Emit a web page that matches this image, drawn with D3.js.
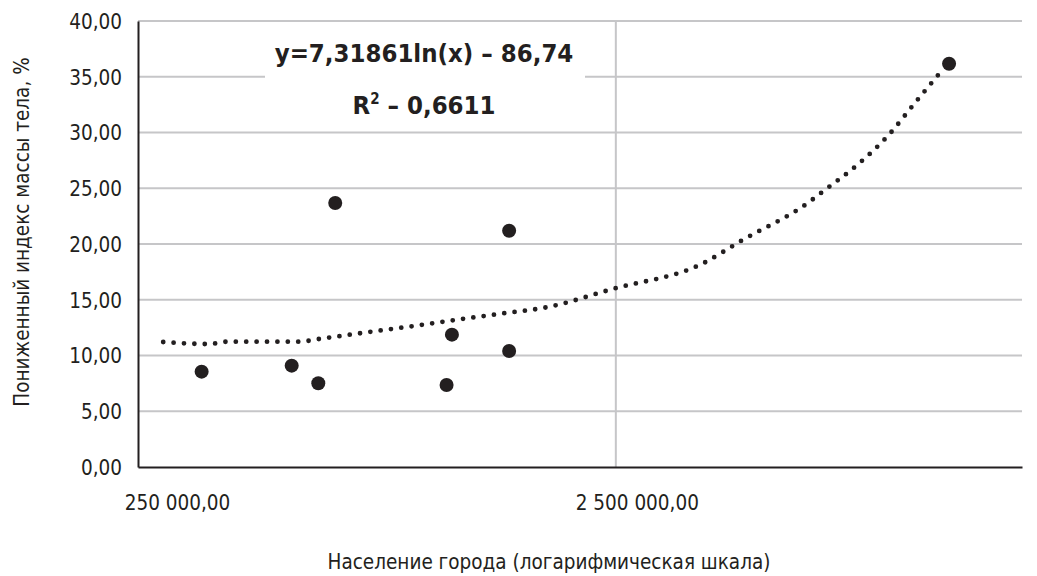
<!DOCTYPE html>
<html><head><meta charset="utf-8">
<script src="https://cdn.jsdelivr.net/npm/d3@7"></script>
<style>body{margin:0;background:#fff;} svg{display:block;}</style>
</head><body>
<svg id="c" width="1037" height="576"></svg>
<script>
// Data
const populations = [339700, 524300, 596000, 646700, 1106000, 1134800, 1495000, 1495000, 12455000];
const bmiValues   = [8.55, 9.09, 7.51, 23.68, 7.35, 11.87, 21.19, 10.40, 36.17];
const trendX = [282300, 352000, 385300, 543000, 597800, 735500, 952800, 1111000, 1436000, 1804000, 2449000, 3807000, 4580000, 6315000, 6843000, 8033000, 9310000, 10607000, 12020000];
const trendY = [11.21, 11.03, 11.24, 11.24, 11.48, 12.02, 12.67, 13.09, 13.75, 14.35, 15.94, 18.27, 20.30, 23.70, 24.84, 27.15, 29.78, 32.74, 35.54];
const xTickValues = [250000, 2500000];
const xTickLabels = ["250 000,00", "2 500 000,00"];
const yTickValues = [0, 5, 10, 15, 20, 25, 30, 35, 40];
const yTickLabels = ["0,00", "5,00", "10,00", "15,00", "20,00", "25,00", "30,00", "35,00", "40,00"];
const equationText = "y=7,31861ln(x) – 86,74";
const r2Label = "R";
const r2Value = " – 0,6611";
const xTitle = "Население города (логарифмическая шкала)";
const yTitle = "Пониженный индекс массы тела, %";

const FONT = "'DejaVu Sans Condensed', 'Liberation Sans Narrow', sans-serif";
const svg = d3.select("#c");
const L = 138, R = 1022, T = 21, B = 467;
const x = d3.scaleLog().domain([250000, 17700000]).range([L, R]);
const y = d3.scaleLinear().domain([0, 40]).range([B, T]);

// horizontal gridlines
svg.append("g").selectAll("line").data(yTickValues.filter(v => v > 0)).join("line")
  .attr("x1", L).attr("x2", R).attr("y1", d => y(d)).attr("y2", d => y(d))
  .attr("stroke", "#c6c6c8").attr("stroke-width", 2);
// vertical gridlines
svg.append("g").selectAll("line").data(xTickValues.filter(v => v > 250000)).join("line")
  .attr("x1", d => x(d)).attr("x2", d => x(d)).attr("y1", T).attr("y2", B)
  .attr("stroke", "#c6c6c8").attr("stroke-width", 2);

// y axis
const yAxis = d3.axisLeft(y).tickValues(yTickValues).tickSize(0).tickPadding(16)
  .tickFormat((d, i) => yTickLabels[i]);
const gy = svg.append("g").attr("transform", `translate(${L},0)`).call(yAxis);
gy.select(".domain").attr("stroke", "#231f20").attr("stroke-width", 2);
gy.selectAll("text").attr("font-family", FONT).attr("font-size", 20.5).attr("fill", "#231f20").attr("dy", "0.36em");

// x axis
const xAxis = d3.axisBottom(x).tickValues(xTickValues).tickSize(0).tickPadding(28)
  .tickFormat((d, i) => xTickLabels[i]);
const gx = svg.append("g").attr("transform", `translate(0,${B})`).call(xAxis);
gx.select(".domain").attr("stroke", "#231f20").attr("stroke-width", 2);
gx.selectAll("text").attr("font-family", FONT).attr("font-size", 20.5).attr("fill", "#231f20")
  .attr("dx", (d, i) => i === 0 ? 39 : 21);

// trend line (dotted)
const line = d3.line().x((d, i) => x(trendX[i])).y((d, i) => y(trendY[i])).curve(d3.curveMonotoneX);
svg.append("path").attr("d", line(trendX)).attr("fill", "none").attr("stroke", "#231f20")
  .attr("stroke-width", 4.8).attr("stroke-linecap", "round").attr("stroke-dasharray", "0 10.4");

// points
svg.append("g").selectAll("circle").data(populations).join("circle")
  .attr("cx", d => x(d)).attr("cy", (d, i) => y(bmiValues[i])).attr("r", 7).attr("fill", "#231f20");

// equation box
svg.append("rect").attr("x", 265).attr("y", 25).attr("width", 320).attr("height", 104).attr("fill", "#fff");
svg.append("text").attr("x", 424).attr("y", 62).attr("text-anchor", "middle")
  .attr("font-family", FONT).attr("font-weight", "bold").attr("font-size", 25.5).attr("fill", "#231f20")
  .text(equationText);
const t2 = svg.append("text").attr("x", 424).attr("y", 114).attr("text-anchor", "middle")
  .attr("font-family", FONT).attr("font-weight", "bold").attr("font-size", 25.5).attr("fill", "#231f20");
t2.append("tspan").text(r2Label);
t2.append("tspan").attr("font-size", 15).attr("dy", -10).text("2");
t2.append("tspan").attr("dy", 10).text(r2Value);

// axis titles
svg.append("text").attr("x", 549).attr("y", 569).attr("text-anchor", "middle")
  .attr("font-family", FONT).attr("font-size", 20.5).attr("fill", "#231f20").text(xTitle);
svg.append("text").attr("transform", "translate(29,232) rotate(-90)").attr("text-anchor", "middle")
  .attr("font-family", FONT).attr("font-size", 20.5).attr("fill", "#231f20").text(yTitle);
</script>
</body></html>
